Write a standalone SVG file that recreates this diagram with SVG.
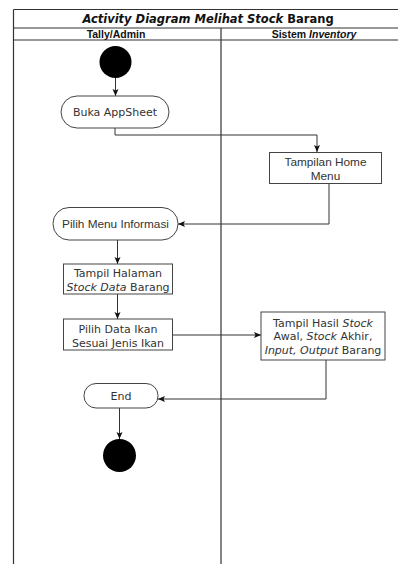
<svg xmlns="http://www.w3.org/2000/svg" width="398" height="564" viewBox="0 0 398 564">
<defs>
<marker id="arr" markerWidth="8" markerHeight="8" refX="7" refY="4" orient="auto" markerUnits="userSpaceOnUse">
<path d="M0,1 L7,4 L0,7 L1.5,4 z" fill="#111"/>
</marker>
<style>
.frame{fill:none;stroke:#333;stroke-width:1.2}
.box{fill:#fff;stroke:#444;stroke-width:1}
.dot{fill:#000}
.edge{fill:none;stroke:#333;stroke-width:1;marker-end:url(#arr)}
.dv{font-family:"DejaVu Sans",Verdana,sans-serif;font-size:11px;fill:#333;text-anchor:middle}
.ar{font-family:"Liberation Sans",Arial,sans-serif;font-size:11.8px;fill:#333;text-anchor:middle}
.hd{font-family:"Liberation Sans",Arial,sans-serif;font-size:10.5px;font-weight:bold;fill:#111;text-anchor:middle}
.ttl{font-family:"DejaVu Sans",Verdana,sans-serif;font-size:11.5px;font-weight:bold;fill:#111;text-anchor:middle}
</style>
</defs>
<rect width="398" height="564" fill="#fff"/>
<g id="pool">
<line class="frame" x1="13.5" y1="9.5" x2="410" y2="9.5"/>
<line class="frame" x1="13.5" y1="28" x2="410" y2="28"/>
<line class="frame" x1="13.5" y1="40" x2="410" y2="40"/>
<line class="frame" x1="13.5" y1="9.5" x2="13.5" y2="570"/>
<line class="frame" x1="221" y1="28" x2="221" y2="570"/>
<text class="ttl" x="208" y="23"><tspan font-style="italic">Activity Diagram Melihat Stock</tspan> Barang</text>
<text class="hd" x="116" y="38">Tally/Admin</text>
<text class="hd" x="314" y="38">Sistem <tspan font-style="italic">Inventory</tspan></text>
</g>
<g id="edges">
<path class="edge" d="M115.5,78 L115.5,96"/>
<path class="edge" d="M115,128 L115,135 L317,135 L317,152"/>
<path class="edge" d="M329,184 L329,224 L178,224"/>
<path class="edge" d="M117.5,240 L117.5,264"/>
<path class="edge" d="M117.5,294 L117.5,319"/>
<path class="edge" d="M173,335 L261,335"/>
<path class="edge" d="M326,360 L326,399 L158,399"/>
<path class="edge" d="M119.5,408 L119.5,439"/>
</g>
<g id="start"><circle class="dot" cx="115.5" cy="62" r="16"/></g>
<g id="buka">
<rect class="box" x="61" y="96" width="108" height="32" rx="16"/>
<text class="dv" x="115" y="116">Buka AppSheet</text>
</g>
<g id="home">
<rect class="box" x="269.5" y="152.5" width="112" height="31"/>
<text class="ar" x="325.5" y="166">Tampilan Home</text>
<text class="ar" x="325.5" y="180">Menu</text>
</g>
<g id="menu">
<rect class="box" x="53" y="207.5" width="125" height="32.5" rx="16"/>
<text class="ar" x="115.5" y="228">Pilih Menu Informasi</text>
</g>
<g id="halaman">
<rect class="box" x="63.5" y="264" width="109" height="30"/>
<text class="dv" x="118" y="276.5">Tampil Halaman</text>
<text class="dv" x="118" y="291"><tspan font-style="italic">Stock Data</tspan> Barang</text>
</g>
<g id="pilihdata">
<rect class="box" x="63.5" y="319" width="109" height="31"/>
<text class="dv" x="118" y="332.5">Pilih Data Ikan</text>
<text class="dv" x="118" y="347">Sesuai Jenis Ikan</text>
</g>
<g id="hasil">
<rect class="box" x="261" y="312" width="124" height="48"/>
<text class="dv" x="323" y="326.5">Tampil Hasil <tspan font-style="italic">Stock</tspan></text>
<text class="dv" x="323" y="340">Awal, <tspan font-style="italic">Stock</tspan> Akhir,</text>
<text class="dv" x="323" y="354"><tspan font-style="italic">Input, Output</tspan> Barang</text>
</g>
<g id="end">
<rect class="box" x="84" y="383.5" width="74" height="24.5" rx="12"/>
<text class="dv" x="121" y="399.5">End</text>
</g>
<g id="final"><circle class="dot" cx="119.5" cy="455.5" r="16.5"/></g>
</svg>
